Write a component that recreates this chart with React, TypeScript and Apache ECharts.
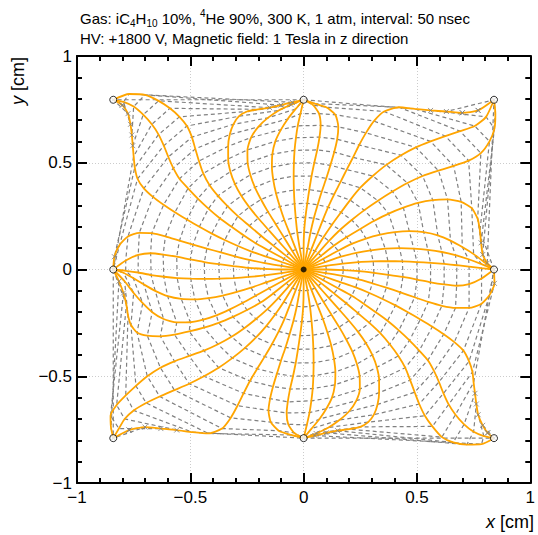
import React, { useEffect, useRef } from "react";
import * as echarts from "echarts";

// ---- drift lines, sampled every 50 ns from the anode outward (x, y in cm) ----
const line000 = [[0,0],[0.1,0],[0.175,-0.003],[0.245,-0.008],[0.31,-0.016],[0.374,-0.025],[0.438,-0.035],[0.5,-0.047],[0.56,-0.06],[0.62,-0.07],[0.675,-0.076],[0.73,-0.068],[0.785,-0.042],[0.84,0]];
const line010 = [[0,0],[0.098,0.017],[0.172,0.028],[0.242,0.035],[0.307,0.038],[0.372,0.039],[0.436,0.038],[0.5,0.035],[0.56,0.031],[0.62,0.026],[0.676,0.02],[0.73,0.013],[0.785,0.006],[0.84,0]];
const line020 = [[0,0],[0.094,0.034],[0.165,0.06],[0.232,0.078],[0.296,0.09],[0.36,0.098],[0.423,0.1],[0.486,0.098],[0.548,0.092],[0.61,0.082],[0.67,0.067],[0.728,0.048],[0.785,0.025],[0.84,0]];
const line030 = [[0,0],[0.087,0.05],[0.152,0.088],[0.212,0.12],[0.275,0.145],[0.338,0.163],[0.402,0.175],[0.466,0.18],[0.53,0.175],[0.592,0.16],[0.648,0.135],[0.7,0.105],[0.75,0.072],[0.795,0.036],[0.84,0]];
const line040 = [[0,0],[0.077,0.064],[0.134,0.112],[0.19,0.152],[0.25,0.19],[0.312,0.228],[0.375,0.262],[0.44,0.29],[0.505,0.312],[0.57,0.325],[0.635,0.328],[0.695,0.317],[0.742,0.287],[0.768,0.237],[0.778,0.18],[0.783,0.125],[0.79,0.07],[0.81,0.03],[0.84,0]];
const line050 = [[0,0],[0.064,0.077],[0.112,0.134],[0.16,0.185],[0.212,0.232],[0.268,0.278],[0.328,0.322],[0.392,0.365],[0.458,0.405],[0.525,0.438],[0.595,0.463],[0.662,0.485],[0.728,0.51],[0.782,0.545],[0.82,0.6],[0.842,0.66],[0.846,0.73],[0.84,0.795]];
const line060 = [[0,0],[0.05,0.087],[0.088,0.152],[0.125,0.21],[0.165,0.268],[0.205,0.325],[0.25,0.383],[0.305,0.438],[0.365,0.49],[0.43,0.535],[0.495,0.572],[0.56,0.6],[0.625,0.625],[0.69,0.648],[0.755,0.672],[0.805,0.715],[0.84,0.795]];
const line070 = [[0,0],[0.034,0.094],[0.06,0.165],[0.084,0.23],[0.108,0.292],[0.135,0.352],[0.163,0.41],[0.19,0.468],[0.218,0.525],[0.245,0.583],[0.275,0.64],[0.31,0.695],[0.355,0.74],[0.42,0.76],[0.49,0.752],[0.56,0.745],[0.63,0.74],[0.7,0.734],[0.77,0.745],[0.84,0.795]];
const line080 = [[0,0],[0.017,0.098],[0.03,0.172],[0.045,0.24],[0.062,0.303],[0.08,0.365],[0.1,0.427],[0.118,0.488],[0.135,0.55],[0.148,0.61],[0.153,0.668],[0.14,0.725],[0.1,0.76],[0.05,0.777],[0,0.795]];
const line090 = [[0,0],[0,0.1],[0.002,0.175],[0.008,0.245],[0.016,0.31],[0.025,0.374],[0.035,0.438],[0.047,0.5],[0.06,0.56],[0.07,0.62],[0.075,0.675],[0.068,0.73],[0.042,0.77],[0,0.795]];
const line100 = [[0,0],[-0.017,0.098],[-0.028,0.173],[-0.035,0.243],[-0.04,0.308],[-0.043,0.372],[-0.044,0.437],[-0.043,0.498],[-0.04,0.558],[-0.034,0.617],[-0.026,0.673],[-0.014,0.73],[0,0.795]];
const line110 = [[0,0],[-0.034,0.094],[-0.06,0.165],[-0.085,0.232],[-0.105,0.295],[-0.122,0.357],[-0.134,0.42],[-0.14,0.48],[-0.138,0.54],[-0.125,0.6],[-0.1,0.655],[-0.07,0.705],[-0.035,0.752],[0,0.795]];
const line120 = [[0,0],[-0.05,0.087],[-0.088,0.152],[-0.123,0.212],[-0.157,0.27],[-0.188,0.328],[-0.215,0.385],[-0.235,0.443],[-0.247,0.5],[-0.248,0.56],[-0.232,0.618],[-0.2,0.668],[-0.158,0.71],[-0.11,0.745],[-0.055,0.772],[0,0.795]];
const line130 = [[0,0],[-0.064,0.077],[-0.112,0.134],[-0.157,0.188],[-0.2,0.24],[-0.24,0.292],[-0.275,0.345],[-0.303,0.4],[-0.323,0.458],[-0.333,0.518],[-0.333,0.577],[-0.326,0.632],[-0.31,0.68],[-0.285,0.718],[-0.25,0.74],[-0.2,0.75],[-0.15,0.758],[-0.1,0.77],[-0.05,0.783],[0,0.795]];
const line140 = [[0,0],[-0.077,0.064],[-0.134,0.112],[-0.188,0.158],[-0.24,0.205],[-0.29,0.25],[-0.336,0.297],[-0.378,0.345],[-0.415,0.395],[-0.443,0.45],[-0.462,0.508],[-0.478,0.565],[-0.493,0.62],[-0.515,0.672],[-0.548,0.715],[-0.59,0.755],[-0.64,0.79],[-0.7,0.818],[-0.77,0.822],[-0.84,0.795]];
const line150 = [[0,0],[-0.087,0.05],[-0.152,0.088],[-0.212,0.123],[-0.265,0.16],[-0.318,0.2],[-0.37,0.24],[-0.42,0.285],[-0.467,0.332],[-0.51,0.38],[-0.548,0.425],[-0.575,0.475],[-0.597,0.527],[-0.617,0.58],[-0.64,0.632],[-0.67,0.68],[-0.708,0.725],[-0.75,0.763],[-0.795,0.785],[-0.84,0.795]];
const line160 = [[0,0],[-0.094,0.034],[-0.165,0.06],[-0.23,0.084],[-0.29,0.11],[-0.348,0.138],[-0.405,0.168],[-0.46,0.2],[-0.515,0.234],[-0.568,0.268],[-0.618,0.303],[-0.665,0.34],[-0.705,0.38],[-0.733,0.425],[-0.745,0.478],[-0.75,0.53],[-0.754,0.58],[-0.758,0.63],[-0.764,0.68],[-0.775,0.73],[-0.8,0.77],[-0.84,0.795]];
const line170 = [[0,0],[-0.098,0.017],[-0.172,0.03],[-0.24,0.045],[-0.303,0.062],[-0.365,0.08],[-0.427,0.098],[-0.488,0.116],[-0.548,0.135],[-0.61,0.155],[-0.67,0.17],[-0.725,0.172],[-0.775,0.155],[-0.812,0.115],[-0.835,0.06],[-0.84,0]];
const line180 = [[0,0],[-0.1,0],[-0.175,0.003],[-0.245,0.008],[-0.31,0.016],[-0.374,0.025],[-0.438,0.035],[-0.5,0.047],[-0.56,0.06],[-0.62,0.07],[-0.675,0.076],[-0.73,0.068],[-0.785,0.042],[-0.84,0]];
const line190 = [[0,0],[-0.098,-0.017],[-0.173,-0.028],[-0.243,-0.035],[-0.308,-0.04],[-0.372,-0.043],[-0.437,-0.044],[-0.498,-0.043],[-0.558,-0.04],[-0.617,-0.034],[-0.673,-0.026],[-0.73,-0.014],[-0.785,-0.006],[-0.84,0]];
const line200 = [[0,0],[-0.094,-0.034],[-0.165,-0.06],[-0.232,-0.085],[-0.295,-0.105],[-0.357,-0.122],[-0.42,-0.134],[-0.48,-0.14],[-0.54,-0.138],[-0.6,-0.125],[-0.655,-0.1],[-0.705,-0.07],[-0.752,-0.04],[-0.795,-0.015],[-0.84,0]];
const line210 = [[0,0],[-0.087,-0.05],[-0.152,-0.088],[-0.212,-0.123],[-0.27,-0.157],[-0.328,-0.188],[-0.385,-0.215],[-0.443,-0.235],[-0.5,-0.247],[-0.56,-0.248],[-0.618,-0.232],[-0.668,-0.2],[-0.71,-0.158],[-0.75,-0.11],[-0.79,-0.055],[-0.84,0]];
const line220 = [[0,0],[-0.077,-0.064],[-0.134,-0.112],[-0.19,-0.155],[-0.25,-0.19],[-0.312,-0.222],[-0.375,-0.25],[-0.44,-0.272],[-0.505,-0.29],[-0.57,-0.305],[-0.632,-0.313],[-0.69,-0.31],[-0.735,-0.295],[-0.762,-0.26],[-0.775,-0.215],[-0.782,-0.165],[-0.795,-0.11],[-0.815,-0.055],[-0.84,0]];
const line230 = [[0,0],[-0.064,-0.077],[-0.112,-0.134],[-0.16,-0.186],[-0.21,-0.232],[-0.262,-0.275],[-0.318,-0.315],[-0.378,-0.35],[-0.44,-0.38],[-0.505,-0.405],[-0.57,-0.43],[-0.632,-0.46],[-0.69,-0.5],[-0.74,-0.545],[-0.785,-0.59],[-0.825,-0.635],[-0.852,-0.685],[-0.85,-0.74],[-0.84,-0.79]];
const line240 = [[0,0],[-0.05,-0.087],[-0.088,-0.152],[-0.125,-0.21],[-0.165,-0.265],[-0.21,-0.318],[-0.26,-0.368],[-0.315,-0.415],[-0.375,-0.46],[-0.44,-0.5],[-0.505,-0.535],[-0.57,-0.565],[-0.635,-0.595],[-0.695,-0.625],[-0.75,-0.66],[-0.79,-0.7],[-0.815,-0.745],[-0.84,-0.79]];
const line250 = [[0,0],[-0.034,-0.094],[-0.06,-0.165],[-0.084,-0.23],[-0.11,-0.29],[-0.14,-0.35],[-0.172,-0.408],[-0.205,-0.465],[-0.237,-0.522],[-0.265,-0.58],[-0.292,-0.638],[-0.322,-0.695],[-0.36,-0.745],[-0.42,-0.768],[-0.49,-0.762],[-0.56,-0.752],[-0.63,-0.745],[-0.7,-0.738],[-0.77,-0.752],[-0.84,-0.79]];
const line260 = [[0,0],[-0.017,-0.098],[-0.03,-0.172],[-0.045,-0.24],[-0.062,-0.303],[-0.08,-0.365],[-0.1,-0.427],[-0.118,-0.488],[-0.135,-0.548],[-0.148,-0.605],[-0.155,-0.66],[-0.145,-0.715],[-0.11,-0.755],[-0.055,-0.775],[0,-0.79]];
const line270 = [[0,0],[0,-0.1],[-0.002,-0.175],[-0.008,-0.245],[-0.016,-0.31],[-0.025,-0.374],[-0.035,-0.438],[-0.047,-0.5],[-0.06,-0.56],[-0.07,-0.62],[-0.075,-0.672],[-0.068,-0.725],[-0.042,-0.765],[0,-0.79]];
const line280 = [[0,0],[0.017,-0.098],[0.028,-0.173],[0.035,-0.243],[0.04,-0.308],[0.043,-0.372],[0.044,-0.437],[0.043,-0.498],[0.04,-0.558],[0.034,-0.615],[0.026,-0.67],[0.014,-0.728],[0,-0.79]];
const line290 = [[0,0],[0.034,-0.094],[0.06,-0.165],[0.085,-0.232],[0.105,-0.295],[0.122,-0.357],[0.134,-0.42],[0.14,-0.48],[0.138,-0.54],[0.125,-0.6],[0.1,-0.652],[0.07,-0.7],[0.035,-0.745],[0,-0.79]];
const line300 = [[0,0],[0.05,-0.087],[0.088,-0.152],[0.123,-0.212],[0.157,-0.27],[0.188,-0.328],[0.215,-0.385],[0.235,-0.443],[0.247,-0.5],[0.248,-0.56],[0.232,-0.615],[0.2,-0.665],[0.158,-0.705],[0.11,-0.74],[0.055,-0.768],[0,-0.79]];
const line310 = [[0,0],[0.064,-0.077],[0.112,-0.134],[0.157,-0.188],[0.2,-0.24],[0.24,-0.292],[0.275,-0.345],[0.303,-0.4],[0.323,-0.458],[0.333,-0.518],[0.333,-0.577],[0.326,-0.632],[0.31,-0.68],[0.285,-0.715],[0.25,-0.737],[0.2,-0.748],[0.15,-0.755],[0.1,-0.765],[0.05,-0.778],[0,-0.79]];
const line320 = [[0,0],[0.077,-0.064],[0.134,-0.112],[0.188,-0.158],[0.24,-0.205],[0.29,-0.25],[0.338,-0.298],[0.38,-0.35],[0.418,-0.405],[0.448,-0.46],[0.47,-0.518],[0.49,-0.575],[0.51,-0.63],[0.535,-0.685],[0.568,-0.735],[0.61,-0.785],[0.66,-0.81],[0.72,-0.82],[0.785,-0.818],[0.84,-0.79]];
const line330 = [[0,0],[0.087,-0.05],[0.152,-0.088],[0.212,-0.123],[0.265,-0.16],[0.318,-0.2],[0.37,-0.24],[0.42,-0.285],[0.467,-0.332],[0.51,-0.38],[0.548,-0.425],[0.575,-0.475],[0.597,-0.527],[0.617,-0.58],[0.64,-0.632],[0.67,-0.68],[0.708,-0.725],[0.75,-0.76],[0.795,-0.78],[0.84,-0.79]];
const line340 = [[0,0],[0.094,-0.034],[0.165,-0.06],[0.23,-0.084],[0.29,-0.11],[0.348,-0.138],[0.405,-0.168],[0.46,-0.2],[0.515,-0.234],[0.568,-0.268],[0.618,-0.303],[0.665,-0.34],[0.705,-0.38],[0.73,-0.43],[0.745,-0.48],[0.75,-0.53],[0.756,-0.58],[0.762,-0.63],[0.77,-0.68],[0.79,-0.73],[0.812,-0.765],[0.84,-0.79]];
const line350 = [[0,0],[0.098,-0.017],[0.172,-0.03],[0.24,-0.045],[0.303,-0.065],[0.365,-0.085],[0.427,-0.107],[0.49,-0.13],[0.55,-0.152],[0.61,-0.17],[0.67,-0.18],[0.73,-0.18],[0.785,-0.16],[0.82,-0.12],[0.842,-0.065],[0.84,0]];

// ordered by angle around the anode
const driftLines = [line000,line010,line020,line030,line040,line050,line060,line070,line080,line090,line100,line110,line120,line130,line140,line150,line160,line170,line180,line190,line200,line210,line220,line230,line240,line250,line260,line270,line280,line290,line300,line310,line320,line330,line340,line350];

// wires
const cathodeWires = [[-0.84,0.795],[0,0.795],[0.84,0.795],[-0.84,0],[0.84,0],[-0.84,-0.79],[0,-0.79],[0.84,-0.79]];
const anodeWire = [[0,0]];

// axis ticks
const axisMin = -1;
const axisMax = 1;
const majorStep = 0.5;

const titleLine1 = "{n|Gas: iC}{s|4}{n|H}{s|10}{n| 10%, }{p|4}{n|He 90%, 300 K, 1 atm, interval: 50 nsec}";
const titleLine2 = "HV: +1800 V, Magnetic field: 1 Tesla in z direction";

const FONT = "'Liberation Sans', Arial, Helvetica, sans-serif";
const ORANGE = "#ffa500";
const GRAY = "#808080";

function buildIsochrones() {
  const n = driftLines.length;
  const maxK = Math.max(...driftLines.map((l) => l.length - 1));
  const segs: number[][][] = [];
  const ends: number[][] = [];
  for (let k = 1; k <= maxK; k++) {
    const has = driftLines.map((l) => l.length > k);
    if (has.every(Boolean)) {
      const ring = driftLines.map((l) => l[k]);
      ring.push(driftLines[0][k]);
      segs.push(ring);
      continue;
    }
    for (let i = 0; i < n; i++) {
      const prev = (i - 1 + n) % n;
      if (has[i] && !has[prev]) {
        const seg: number[][] = [];
        let j = i;
        while (has[j]) {
          seg.push(driftLines[j][k]);
          j = (j + 1) % n;
          if (j === i) break;
        }
        if (seg.length > 1) segs.push(seg);
        ends.push(seg[0]);
        ends.push(seg[seg.length - 1]);
      }
    }
  }
  return { segs, ends };
}

const fmt = (v: number) => (v === 0 ? "0" : String(v).replace("-", "\u2212"));

function axisCommon(showLabel: boolean, isX: boolean) {
  return {
    type: "value",
    min: axisMin,
    max: axisMax,
    interval: majorStep,
    axisLine: { show: true, onZero: false, lineStyle: { color: "#000", width: 2 } },
    axisTick: { show: true, inside: true, length: 10, lineStyle: { color: "#000", width: 2 } },
    minorTick: { show: true, splitNumber: 5, length: 5, lineStyle: { color: "#000", width: 2 } },
    axisLabel: {
      show: showLabel,
      formatter: fmt,
      fontSize: 17,
      color: "#000",
      fontFamily: FONT,
      margin: isX ? 6 : 5,
      showMinLabel: true,
      showMaxLabel: true,
    },
    splitLine: showLabel
      ? { show: true, lineStyle: { color: "#cccccc", width: 1, type: [1, 2] } }
      : { show: false },
  };
}

export default function App() {
  const ref = useRef<HTMLDivElement>(null);
  useEffect(() => {
    if (!ref.current) return;
    const chart = echarts.init(ref.current, undefined, { renderer: "svg" });
    const { segs, ends } = buildIsochrones();
    const series: any[] = [];
    segs.forEach((s) =>
      series.push({
        type: "line",
        data: s,
        symbol: "none",
        silent: true,
        z: 2,
        lineStyle: { color: GRAY, width: 1.2, type: [4, 3] },
      })
    );
    driftLines.forEach((l) =>
      series.push({
        type: "line",
        data: l,
        symbol: "none",
        smooth: 0.2,
        silent: true,
        z: 3,
        lineStyle: { color: ORANGE, width: 1.8 },
      })
    );
    series.push({
      type: "scatter",
      data: ends,
      symbol: "path://M0,0L10,10M10,0L0,10",
      symbolSize: 5,
      silent: true,
      z: 4,
      itemStyle: { color: "none", borderColor: GRAY, borderWidth: 1 },
    });
    series.push({
      type: "scatter",
      data: cathodeWires,
      symbol: "circle",
      symbolSize: 7,
      silent: true,
      z: 5,
      itemStyle: { color: "#fff", borderColor: "#000", borderWidth: 1 },
    });
    series.push({
      type: "scatter",
      data: anodeWire,
      symbol: "circle",
      symbolSize: 6,
      silent: true,
      z: 5,
      itemStyle: { color: "#000" },
    });

    chart.setOption({
      animation: false,
      grid: { left: 77, top: 56, width: 457, height: 427 },
      xAxis: [
        { ...axisCommon(true, true), position: "bottom" },
        { ...axisCommon(false, true), position: "top" },
      ],
      yAxis: [
        { ...axisCommon(true, false), position: "left" },
        { ...axisCommon(false, false), position: "right" },
      ],
      series,
      graphic: [
        {
          type: "text",
          x: 80,
          y: 8,
          style: {
            text: titleLine1,
            fontFamily: FONT,
            fontSize: 15,
            fill: "#000",
            rich: {
              n: { fontSize: 15, fontFamily: FONT, lineHeight: 20, verticalAlign: "middle" },
              s: { fontSize: 10, fontFamily: FONT, lineHeight: 20, verticalAlign: "bottom" },
              p: { fontSize: 10, fontFamily: FONT, lineHeight: 20, verticalAlign: "top" },
            },
          },
        },
        {
          type: "text",
          x: 80,
          y: 31,
          style: { text: titleLine2, fontFamily: FONT, fontSize: 15, fill: "#000" },
        },
        {
          type: "text",
          x: 534,
          y: 522,
          style: {
            text: "{i|x} [cm]",
            fontFamily: FONT,
            fontSize: 18,
            fill: "#000",
            align: "right",
            verticalAlign: "middle",
            rich: { i: { fontStyle: "italic", fontFamily: FONT, fontSize: 18 } },
          },
        },
        {
          type: "text",
          x: 18,
          y: 57,
          rotation: Math.PI / 2,
          style: {
            text: "{i|y} [cm]",
            fontFamily: FONT,
            fontSize: 18,
            fill: "#000",
            align: "right",
            verticalAlign: "middle",
            rich: { i: { fontStyle: "italic", fontFamily: FONT, fontSize: 18 } },
          },
        },
      ],
    });
    return () => chart.dispose();
  }, []);
  return (
    <div
      ref={ref}
      style={{ position: "absolute", left: 0, top: 0, width: 538, height: 535, background: "#fff" }}
    />
  );
}
